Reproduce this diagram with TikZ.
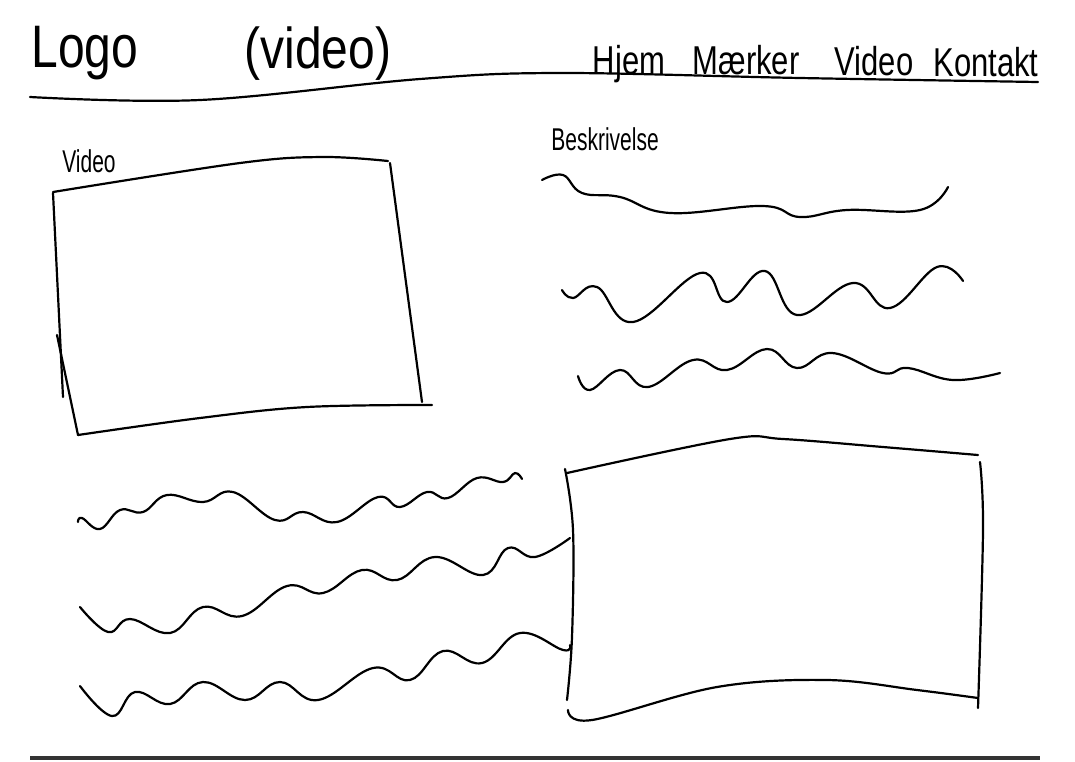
\documentclass[tikz,border=0pt]{standalone}
\usepackage{graphicx}
\usepackage{fontspec}
\setmainfont{Liberation Sans}
\newcommand{\tallx}[2]{\scalebox{1}[#1]{#2}}
\begin{document}
\begin{tikzpicture}[x=1pt,y=-1pt,
  pen/.style={line width=2.2pt,line cap=round,line join=round,black},
  wave/.style={pen,smooth,tension=0.7},
  lbl/.style={anchor=base,inner sep=0pt,outer sep=0pt},
  big/.style={lbl,font=\fontsize{48}{48}\selectfont},
  nav/.style={lbl,font=\fontsize{31}{31}\selectfont},
  small/.style={lbl,font=\fontsize{21}{21}\selectfont}]
\useasboundingbox[fill=white] (0,0) rectangle (1075,761);
% header texts
\node[big] (logo) at (85,67) {\tallx{1.25}{Logo}};
\node[big] (vid) at (318,68) {\tallx{1.2}{(video)}};
\node[nav] (hjem) at (629,74) {\tallx{1.3}{Hjem}};
\node[nav] (maerker) at (746,74) {\tallx{1.3}{Mærker}};
\node[nav] (video) at (874,75) {\tallx{1.3}{Video}};
\node[nav] (kontakt) at (986,76) {\tallx{1.3}{Kontakt}};
% header line
\draw[pen] plot[smooth,tension=0.6] coordinates {(30,97) (200,100) (420,79) (560,73) (800,78) (1038,82)};
% video label and box
\node[small] (videolbl) at (89,172) {\tallx{1.5}{Video}};
\draw[pen] plot[smooth,tension=0.6] coordinates {(53,192) (240,163) (323,157) (388,161)};
\draw[pen] (390,163) -- (422,402);
\draw[pen] plot[smooth,tension=0.6] coordinates {(78,435) (200,418) (307,407) (432,405)};
\draw[pen] (53,193) -- (63,397);
\draw[pen] (57,335) -- (78,435);
% Beskrivelse
\node[small] (besk) at (605,150) {\tallx{1.5}{Beskrivelse}};
\draw[wave] plot coordinates {(542,180) (563,175) (582,193) (620,197) (670,213) (763,206) (800,217) (847,210) (920,210) (948,187)};
\draw[wave] plot coordinates {(562,290) (573,298) (597,287) (633,322) (700,273) (727,302) (765,271) (797,315) (853,283) (890,308) (937,267) (963,281)};
\draw[wave] plot coordinates {(578,376) (590,390) (620,370) (648,387) (693,360) (727,370) (767,349) (797,368) (832,353) (883,373) (908,368) (953,380) (1000,373)};
% bottom-left waves
\draw[wave] plot coordinates {(78,522) (82,518) (100,529) (120,510) (143,512) (167,495) (203,502) (233,492) (275,520) (303,512) (337,522) (378,497) (400,507) (427,492) (448,498) (477,478) (503,482) (515,473) (522,479)};
\draw[wave] plot coordinates {(80,607) (108,632) (130,619) (170,633) (203,607) (242,616) (287,586) (323,593) (362,570) (397,580) (435,557) (483,575) (508,548) (535,557) (570,538)};
\draw[wave] plot coordinates {(80,686) (112,716) (135,692) (170,704) (203,682) (245,700) (280,682) (318,700) (373,668) (410,680) (443,651) (482,663) (520,633) (563,650) (570,645)};
% right box
\draw[pen] plot[smooth,tension=0.6] coordinates {(567,473) (730,439) (783,439) (883,447) (978,455)};
\draw[pen] plot[smooth,tension=0.6] coordinates {(565,469) (573,530) (572,637) (567,700)};
\draw[pen] plot[smooth,tension=0.6] coordinates {(980,462) (983,530) (978,708)};
\draw[pen] plot[smooth,tension=0.6] coordinates {(568,710) (592,720) (717,687) (827,680) (917,690) (978,698)};
% bottom line
\draw[line width=4pt,color=black!80] (30,758) -- (1040,758);
\end{tikzpicture}
\end{document}
